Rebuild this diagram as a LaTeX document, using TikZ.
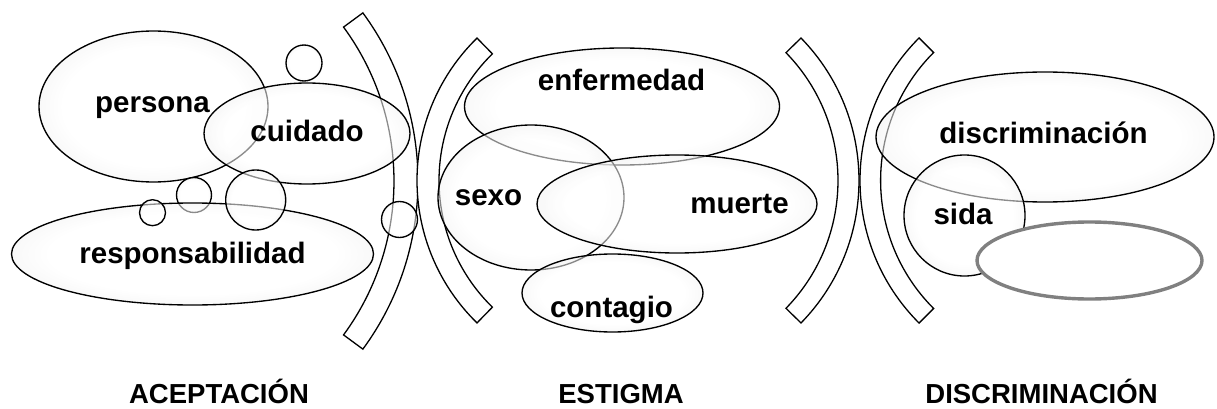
\documentclass[tikz,border=0pt]{standalone}
\usepackage{fontspec}
\setmainfont{Liberation Sans}
\pgfdeclareradialshading{glowrim}{\pgfpoint{0bp}{0bp}}{color(0bp)=(white); color(20bp)=(white); color(35bp)=(black!14); color(50bp)=(black!14)}
\begin{document}
\begin{tikzpicture}[x=1pt,y=-1pt,
  blob/.style={draw=black, line width=1.35pt, shading=glowrim, fill opacity=0.55},
  hollow/.style={draw=black!50, line width=3.4pt, fill=white},
  brk/.style={draw=black, line width=1.3pt, fill=white, line join=miter},
  word/.style={font=\bfseries\fontsize{29.5}{32}\selectfont, anchor=base, inner sep=0pt},
  title/.style={font=\bfseries\fontsize{27.5}{30}\selectfont, anchor=base, inner sep=0pt}]
\useasboundingbox (0,0) rectangle (1217,409);

% brackets
\draw[brk] (134,181) ++(-36.3:284) arc[start angle=-36.3,end angle=36.3,radius=284]
  -- ++(216.3:24) arc[start angle=36.3,end angle=-36.3,radius=260] -- cycle;
\draw[brk] (616,180.5) ++(134.3:199) arc[start angle=134.3,end angle=225.7,radius=199]
  -- ++(45.7:22) arc[start angle=225.7,end angle=134.3,radius=177] -- cycle;
\draw[brk] (655,180.5) ++(-44.3:204) arc[start angle=-44.3,end angle=44.3,radius=204]
  -- ++(224.3:21) arc[start angle=44.3,end angle=-44.3,radius=183] -- cycle;
\draw[brk] (1061.6,180.5) ++(135:201.6) arc[start angle=135,end angle=225,radius=201.6]
  -- ++(45:20.6) arc[start angle=225,end angle=135,radius=181] -- cycle;

% left group
\draw[blob] (153.5,106.5) ellipse[x radius=114.5, y radius=75.5];
\draw[blob] (304,63) circle[radius=18];
\draw[blob] (307,133.5) ellipse[x radius=103, y radius=50.5];
\draw[blob] (194,195) circle[radius=17.5];
\draw[blob] (192.5,254) ellipse[x radius=181, y radius=51];
\draw[blob] (152.5,212.7) circle[radius=13];
\draw[blob] (255.7,200) circle[radius=30];
\draw[blob] (399.5,219.5) circle[radius=18];

% middle group
\draw[blob] (622,106.5) ellipse[x radius=157.5, y radius=58.5];
\draw[blob] (531,197.5) ellipse[x radius=93, y radius=72.5];
\draw[blob] (677,204) ellipse[x radius=140, y radius=49];
\draw[blob] (612.5,293) ellipse[x radius=90.5, y radius=39];

% right group
\draw[blob] (1045,137) ellipse[x radius=169, y radius=65];
\draw[blob] (964.5,215.5) circle[radius=60.5];
\draw[hollow] (1089.5,260.5) ellipse[x radius=112.5, y radius=38.5];

% texts
\node[word] (persona) at (152.5,113) {persona};
\node[word] (cuidado) at (307,142) {cuidado};
\node[word] (resp) at (192.5,263.5) {responsabilidad};
\node[word] (enf) at (621.5,91) {enfermedad};
\node[word] (sexo) at (488.5,205) {sexo};
\node[word] (muerte) at (739.5,213) {muerte};
\node[word] (contagio) at (611.5,317) {contagio};
\node[word] (discr) at (1043.5,143) {discriminación};
\node[word] (sida) at (963,224) {sida};

\node[title] (acep) at (219,403) {ACEPTACIÓN};
\node[title] (estig) at (621,403) {ESTIGMA};
\node[title] (discrim) at (1041.5,403) {DISCRIMINACIÓN};
\end{tikzpicture}
\end{document}
